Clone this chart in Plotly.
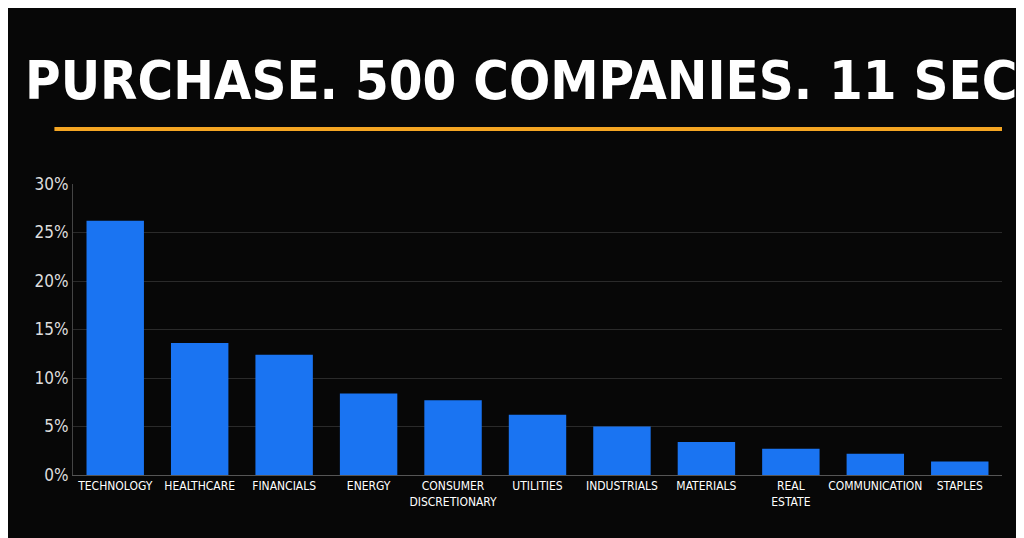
import plotly.graph_objects as go

sectors = ["TECHNOLOGY","HEALTHCARE","FINANCIALS","ENERGY","CONSUMER<br>DISCRETIONARY","UTILITIES","INDUSTRIALS","MATERIALS","REAL<br>ESTATE","COMMUNICATION","STAPLES"]
weights = [26.2, 13.6, 12.4, 8.4, 7.7, 6.2, 5.0, 3.4, 2.7, 2.2, 1.4]
yticks = [0, 5, 10, 15, 20, 25, 30]
ytext = [f"{v}%" for v in yticks]

fig = go.Figure(go.Bar(x=sectors, y=weights, width=0.68,
                       marker=dict(color="#1a74f2", line=dict(width=0))))
fig.update_layout(
    width=1024, height=538, paper_bgcolor="#070707", plot_bgcolor="#070707",
    margin=dict(l=65, r=30, t=176, b=71), showlegend=False,
    font=dict(family="DejaVu Sans Condensed", color="white"),
    xaxis=dict(tickfont=dict(size=12, color="white"), showgrid=False,
               showline=True, linecolor="#555", ticks=""),
    yaxis=dict(range=[0, 30], tickvals=yticks, ticktext=ytext,
               tickfont=dict(size=17, color="#dddddd"), gridcolor="#2a2a2a",
               zeroline=False, showline=True, linecolor="#444"),
    annotations=[dict(text="<b>ONE PURCHASE. 500 COMPANIES. 11 SECTORS.</b>",
                      xref="paper", yref="paper", x=0.5, y=1, yshift=104,
                      showarrow=False, xanchor="center", yanchor="middle",
                      font=dict(size=54, color="white", family="DejaVu Sans Condensed"))],
    shapes=[dict(type="line", xref="paper", yref="paper", x0=-0.02, x1=1.0,
                 y0=1.189, y1=1.189, line=dict(color="#f5a623", width=4))]
)
fig.write_html("out.html")
